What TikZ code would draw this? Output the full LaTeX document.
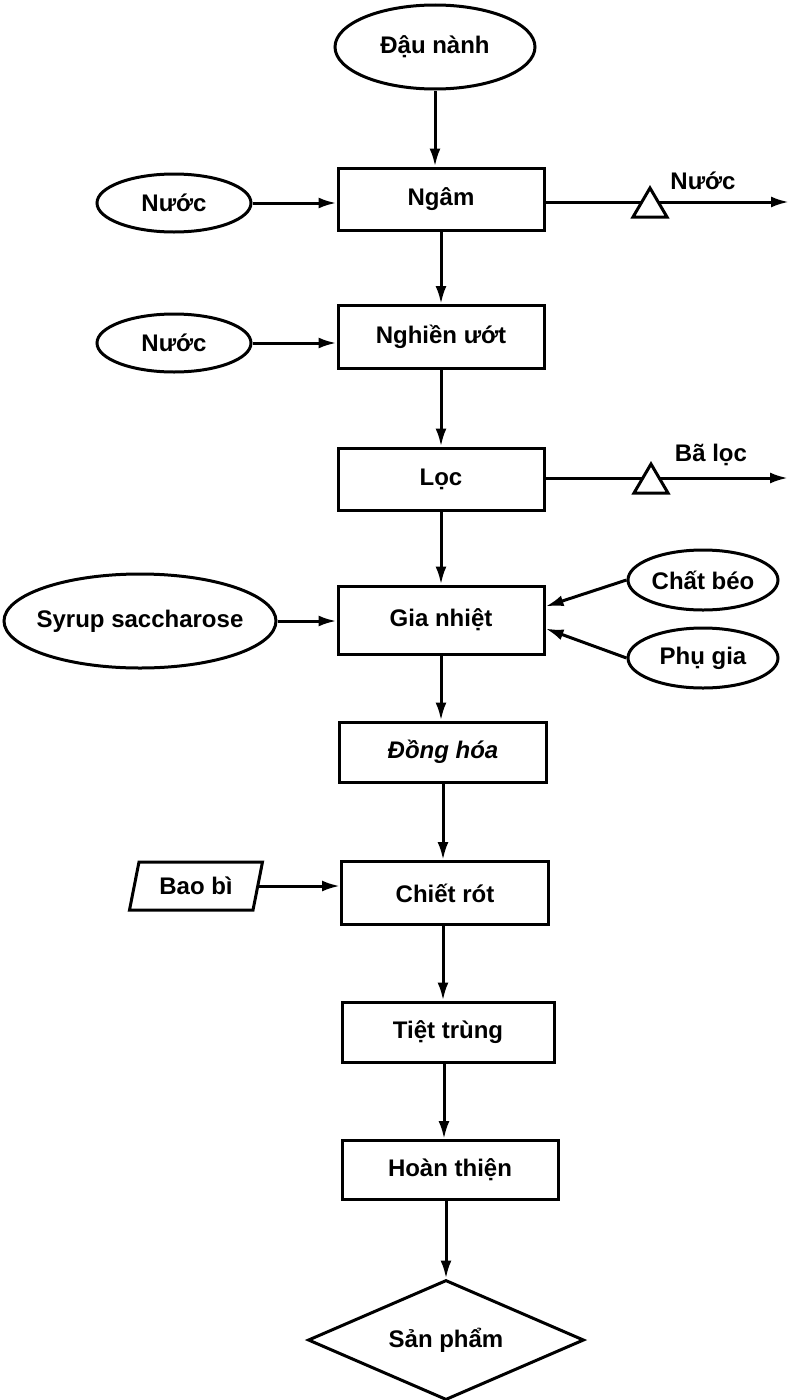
\documentclass[tikz,border=0pt]{standalone}
\usepackage{fontspec}
\setmainfont{Liberation Sans}
\usetikzlibrary{shapes.geometric,arrows.meta,calc}
\begin{document}
\begin{tikzpicture}[x=1pt,y=-1pt,
  every node/.style={font=\fontsize{24}{28}\selectfont\bfseries},
  arr/.style={line width=3pt,-{Latex[length=18pt,width=11pt]}},
  stepbox/.style={draw,line width=3pt,rectangle,minimum width=206,minimum height=62,inner sep=0pt},
  inell/.style={draw,line width=3pt,ellipse,minimum width=154,minimum height=58,inner sep=0pt},
  outtri/.style={draw,line width=3pt,fill=white}
]
\useasboundingbox (0,0) rectangle (791,1400);
% nodes
\node[inell,minimum width=200,minimum height=84] (dn) at (435,47) {Đậu nành};
\node[stepbox] (ngam) at (441,199) {Ngâm};
\node[inell] (n1) at (174,203) {Nước};
\node[stepbox,minimum height=63] (ngh) at (441,337) {Nghiền ướt};
\node[inell] (n2) at (174,343) {Nước};
\node[stepbox] (loc) at (441,479) {Lọc};
\node[stepbox,minimum height=68] (gn) at (441,620) {Gia nhiệt};
\node[inell,minimum width=272,minimum height=94,inner xsep=-30pt] (syr) at (140,621) {Syrup saccharose};
\node[inell,minimum width=150,minimum height=60,inner xsep=-6pt] (cb) at (703,580) {Chất béo};
\node[inell,minimum width=150,minimum height=60] (pg) at (703,658) {Phụ gia};
\node[stepbox,minimum width=207,minimum height=60] (dh) at (443,752) {\itshape Đồng hóa};
\node[stepbox,minimum width=207,minimum height=63] (cr) at (445,893) {Chiết rót};
\node[draw,line width=3pt,trapezium,trapezium stretches body,trapezium left angle=62,trapezium right angle=118,minimum width=133,minimum height=48,inner sep=0pt] (bb) at (196,886) {Bao bì};
\node[stepbox,minimum width=212,minimum height=60] (tt) at (448,1032) {Tiệt trùng};
\node[stepbox,minimum width=216,minimum height=59] (ht) at (450,1170) {Hoàn thiện};
\node[draw,line width=3pt,diamond,aspect=2.3,minimum width=276,minimum height=120,inner sep=0pt] (sp) at (446,1340) {Sản phẩm};
% main vertical flow
\draw[arr] (dn.south) -- (dn.south |- ngam.north);
\draw[arr] (ngam.south) -- (ngam.south |- ngh.north);
\draw[arr] (ngh.south) -- (ngh.south |- loc.north);
\draw[arr] (loc.south) -- (loc.south |- gn.north);
\draw[arr] (gn.south) -- (gn.south |- dh.north);
\draw[arr] (dh.south) -- (dh.south |- cr.north);
\draw[arr] ([xshift=-2pt]cr.south) -- ([xshift=-2pt]cr.south |- tt.north);
\draw[arr] ([xshift=-4pt]tt.south) -- ([xshift=-4pt]tt.south |- ht.north);
\draw[arr] ([xshift=-4pt]ht.south) -- (sp.north);
% side inputs
\draw[arr] (n1.east) -- (n1.east -| ngam.west);
\draw[arr] (n2.east) -- (n2.east -| ngh.west);
\draw[arr] (syr.east) -- (syr.east -| gn.west);
\draw[arr] (bb.east) -- (bb.east -| cr.west);
\coordinate (gnA) at ($(gn.north east)+(0,22)$);
\coordinate (gnB) at ($(gn.north east)+(0,44)$);
\draw[arr] (cb.west) -- (gnA);
\draw[arr] (pg.west) -- (gnB);
% outputs with triangle
\coordinate (o1) at (789,202);
\coordinate (t1) at (650,202);
\draw[arr] (o1 -| ngam.east) -- (o1);
\draw[outtri] ($(t1)+(-17,15)$) -- ($(t1)+(0,-14)$) -- ($(t1)+(17,15)$) -- cycle;
\node (lb1) at (703,181) {Nước};
\coordinate (o2) at (788,478);
\coordinate (t2) at (651,478);
\draw[arr] (o2 -| loc.east) -- (o2);
\draw[outtri] ($(t2)+(-17,15)$) -- ($(t2)+(0,-14)$) -- ($(t2)+(17,15)$) -- cycle;
\node (lb2) at (711,455) {Bã lọc};
\end{tikzpicture}
\end{document}
